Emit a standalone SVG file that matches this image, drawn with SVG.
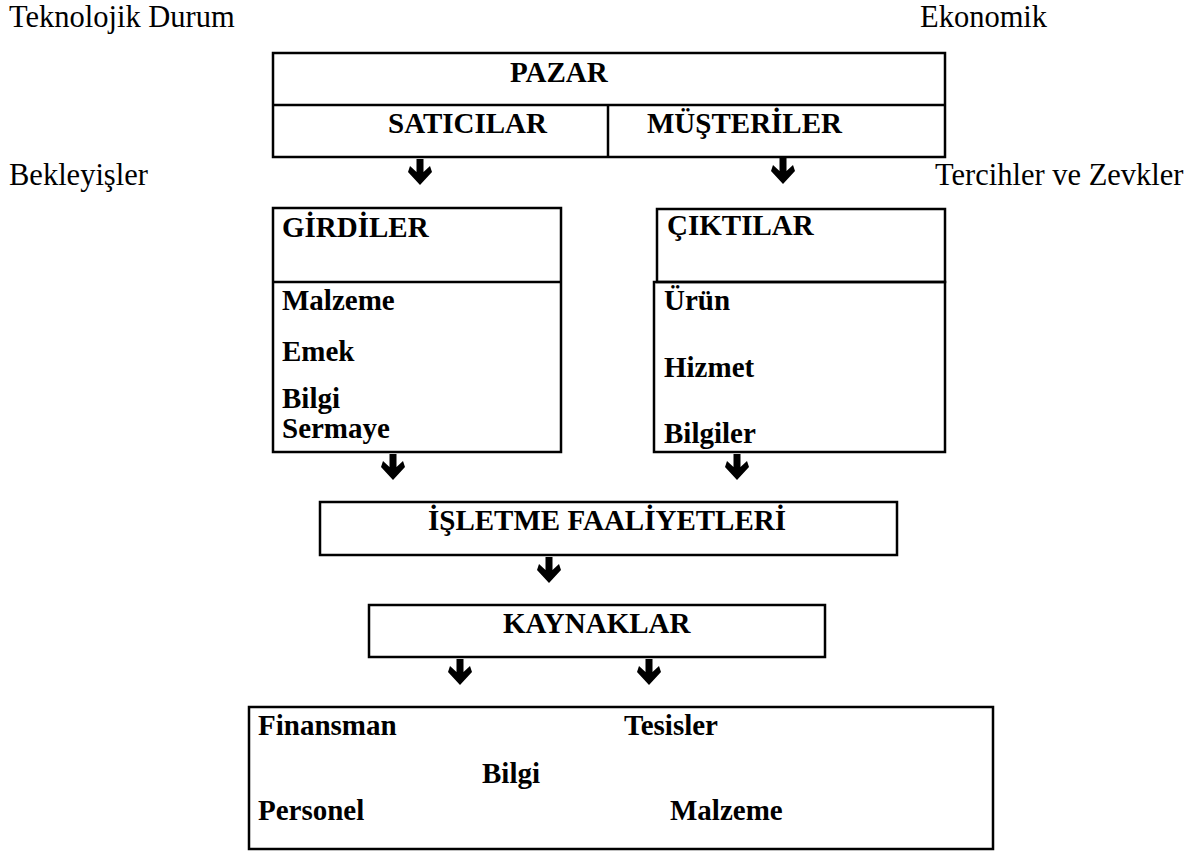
<svg xmlns="http://www.w3.org/2000/svg" xmlns:xlink="http://www.w3.org/1999/xlink" width="1198" height="853" viewBox="0 0 1198 853">
  <style>
    .box { fill: none; stroke: #000; stroke-width: 2.5; }
    .rule { stroke: #000; stroke-width: 2.5; }
    .hd { font-family: "Liberation Serif", "Times New Roman", serif; font-weight: bold; font-size: 29px; fill: #000; }
    .env { font-family: "Liberation Serif", "Times New Roman", serif; font-size: 30.5px; fill: #000; }
  </style>
  <defs>
    <!-- bold down arrow, origin at top centre of the stem -->
    <path id="down" d="M-3.5,0 H3.5 V13 L10,7 L12,13 L0,26 L-12,13 L-10,7 L-3.5,13 Z" fill="#000"/>
  </defs>
  <rect width="1198" height="853" fill="#fff"/>

  <!-- surrounding influences -->
  <g id="env-labels">
    <text class="env" x="9" y="27">Teknolojik Durum</text>
    <text class="env" x="920" y="27">Ekonomik</text>
    <text class="env" x="9" y="185">Bekleyişler</text>
    <text class="env" x="935" y="185">Tercihler ve Zevkler</text>
  </g>

  <g id="pazar">
    <rect class="box" x="273" y="53" width="672" height="104"/>
    <line class="rule" x1="273" y1="105" x2="945" y2="105"/>
    <line class="rule" x1="608" y1="105" x2="608" y2="157"/>
    <text class="hd" x="510" y="82">PAZAR</text>
    <text class="hd" x="388" y="133">SATICILAR</text>
    <text class="hd" x="647" y="133">MÜŞTERİLER</text>
  </g>

  <g id="girdiler">
    <rect class="box" x="273" y="208" width="288" height="244"/>
    <line class="rule" x1="273" y1="282" x2="561" y2="282"/>
    <text class="hd" x="282" y="237">GİRDİLER</text>
    <text class="hd" x="282" y="310">Malzeme</text>
    <text class="hd" x="282" y="361">Emek</text>
    <text class="hd" x="282" y="408">Bilgi</text>
    <text class="hd" x="282" y="438">Sermaye</text>
  </g>

  <g id="ciktilar">
    <rect class="box" x="657" y="209" width="288" height="73"/>
    <rect class="box" x="654" y="282" width="291" height="170"/>
    <text class="hd" x="667" y="235">ÇIKTILAR</text>
    <text class="hd" x="664" y="310">Ürün</text>
    <text class="hd" x="664" y="377">Hizmet</text>
    <text class="hd" x="664" y="443">Bilgiler</text>
  </g>

  <g id="isletme">
    <rect class="box" x="320" y="502" width="577" height="53"/>
    <text class="hd" x="428" y="530">İŞLETME FAALİYETLERİ</text>
  </g>

  <g id="kaynaklar">
    <rect class="box" x="369" y="605" width="456" height="52"/>
    <text class="hd" x="503" y="633">KAYNAKLAR</text>
  </g>

  <g id="resources">
    <rect class="box" x="249" y="707" width="744" height="142"/>
    <text class="hd" x="258" y="735">Finansman</text>
    <text class="hd" x="624" y="735">Tesisler</text>
    <text class="hd" x="482" y="783">Bilgi</text>
    <text class="hd" x="258" y="820">Personel</text>
    <text class="hd" x="670" y="820">Malzeme</text>
  </g>

  <g id="connectors">
    <use xlink:href="#down" x="420" y="159"/>
    <use xlink:href="#down" x="783" y="158"/>
    <use xlink:href="#down" x="393" y="454"/>
    <use xlink:href="#down" x="737" y="454"/>
    <use xlink:href="#down" x="549" y="557"/>
    <use xlink:href="#down" x="460" y="659"/>
    <use xlink:href="#down" x="649" y="659"/>
  </g>
</svg>
